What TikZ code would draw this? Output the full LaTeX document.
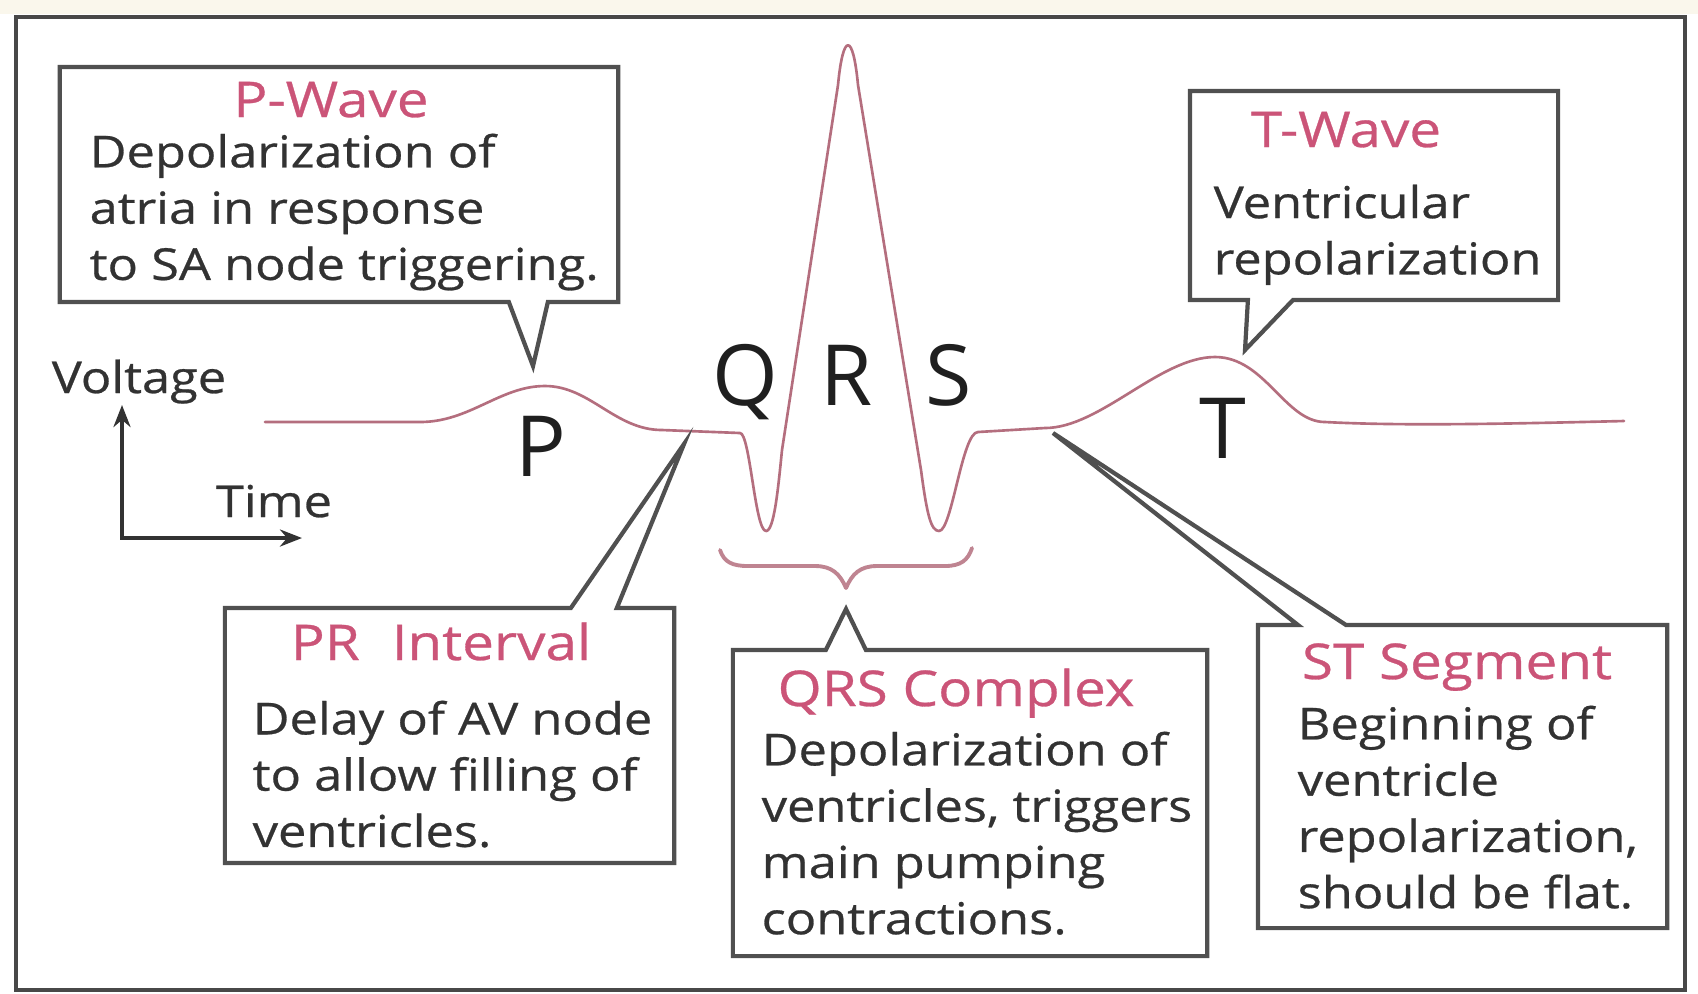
\documentclass[tikz,border=0pt]{standalone}
\usepackage{fontspec}
\setmainfont{Open Sans}[FakeStretch=1.15,FakeBold=0.6]
\newfontfamily\ecgletterfam{Open Sans}
\usetikzlibrary{calc,arrows.meta}
\definecolor{boxgrey}{RGB}{80,80,80}
\definecolor{txtgrey}{RGB}{50,50,50}
\definecolor{ttlpink}{RGB}{203,84,120}
\definecolor{wavepink}{RGB}{180,110,126}
\definecolor{framegrey}{RGB}{72,72,72}
\definecolor{creamtop}{RGB}{250,247,236}
\newcommand\ecgbody{\fontsize{12.5pt}{16pt}\selectfont}
\newcommand\ecgtitle{\fontsize{14pt}{17pt}\selectfont}
\newcommand\ecgletter{\ecgletterfam\fontsize{24pt}{28pt}\selectfont}
\tikzset{
  boxnode/.style={rectangle, draw=none, inner sep=0pt, outer sep=0pt},
  callout/.style={draw=boxgrey, line width=1.2pt, line join=miter, miter limit=20},
  bodytxt/.style={text=txtgrey, font=\ecgbody, align=left, anchor=north west, inner sep=0pt},
  ttl/.style={text=ttlpink, font=\ecgtitle, anchor=base, inner sep=0pt},
  axlabel/.style={text=txtgrey, font=\ecgbody, anchor=base, inner sep=0pt},
  wavelet/.style={font=\ecgletter, text=black!88, anchor=base, inner sep=0pt},
  wave/.style={draw=wavepink, line width=0.75pt, line join=round, line cap=round},
  bracestyle/.style={draw=wavepink!85, line width=1.1pt, line join=round, line cap=round},
  axis/.style={draw=txtgrey, line width=1.2pt, {Stealth[length=0.22cm,width=0.17cm]}-{Stealth[length=0.22cm,width=0.17cm]}},
}
\begin{document}
\begin{tikzpicture}[x=0.01cm, y=-0.01cm]
\useasboundingbox (0,0) rectangle (1698,993);
\fill[white] (0,0) rectangle (1698,993);
\fill[creamtop] (0,0) rectangle (1698,14);
\draw[framegrey, line width=1.3pt] (16,17) rectangle (1685,990);

% ---- ECG waveform ----
\draw[wave] (265,422) -- (420,422)
  .. controls (470,422) and (500,386) .. (545,386)
  .. controls (590,386) and (615,430) .. (662,430)
  -- (740,433)
  .. controls (750,433) and (755,531) .. (766,531)
  .. controls (774,531) and (778,490) .. (782,450)
  -- (838,85)
  .. controls (843,32) and (853,32) .. (858,85)
  -- (921,470)
  .. controls (927,515) and (931,531) .. (939,531)
  .. controls (952,531) and (962,432) .. (978,432)
  -- (1045,428)
  .. controls (1100,428) and (1160,357) .. (1215,357)
  .. controls (1265,357) and (1285,422) .. (1325,422)
  .. controls (1400,426) and (1500,424) .. (1624,421);

% QRS brace
\draw[bracestyle] (720,550) .. controls (724,562) and (732,566) .. (748,566)
  -- (815,566) .. controls (832,566) and (840,574) .. (846,588)
  .. controls (852,574) and (860,566) .. (877,566)
  -- (945,566) .. controls (961,566) and (968,560) .. (972,548);

% wave letters
\node[wavelet] (lP) at (541,476) {P};
\node[wavelet] (lQ) at (745,405) {Q};
\node[wavelet] (lR) at (847,405) {R};
\node[wavelet] (lS) at (949,405) {S};
\node[wavelet] (lT) at (1223,458) {T};

% axes
\coordinate (axc) at (122,538);
\coordinate (axv) at (122,405);
\coordinate (axh) at (302,538);
\draw[axis] (axv) -- (axc) -- (axh);
\node[axlabel] (volt) at (139,393) {Voltage};
\node[axlabel] (time) at (274,517) {Time};

% ---- P-Wave callout ----
\node[boxnode, minimum width=5.58cm, minimum height=2.35cm] (pwbox) at (339,184.5) {};
\coordinate (pwtip) at (533,366);
\coordinate (pwb1) at ($(pwbox.south west)+(449,0)$);
\coordinate (pwb2) at ($(pwbox.south west)+(488,0)$);
\draw[callout] (pwbox.south west) -- (pwbox.north west) -- (pwbox.north east)
  -- (pwbox.south east) -- (pwb2) -- (pwtip) -- (pwb1) -- cycle;
\node[ttl] (pwttl) at (331,117) {P-Wave};
\node[bodytxt] (pwtext) at (89,133) {Depolarization of\\atria in response\\to SA node triggering.};

% ---- T-Wave callout ----
\node[boxnode, minimum width=3.68cm, minimum height=2.09cm] (twbox) at (1374,195.5) {};
\coordinate (twtip) at (1245,350);
\coordinate (twb1) at ($(twbox.south west)+(58,0)$);
\coordinate (twb2) at ($(twbox.south west)+(103,0)$);
\draw[callout] (twbox.south west) -- (twbox.north west) -- (twbox.north east)
  -- (twbox.south east) -- (twb2) -- (twtip) -- (twb1) -- cycle;
\node[ttl] (twttl) at (1346,147) {T-Wave};
\node[bodytxt] (twtext) at (1213,184) {Ventricular\\repolarization};

% ---- PR Interval callout ----
\node[boxnode, minimum width=4.49cm, minimum height=2.55cm] (prbox) at (449.5,735.5) {};
\coordinate (prtip) at (684,444);
\coordinate (prb1) at ($(prbox.north west)+(346,0)$);
\coordinate (prb2) at ($(prbox.north west)+(392,0)$);
\draw[callout] (prbox.north west) -- (prb1) -- (prtip) -- (prb2) -- (prbox.north east)
  -- (prbox.south east) -- (prbox.south west) -- cycle;
\node[ttl] (prttl) at (441,660) {PR\hspace{0.35em} Interval};
\node[bodytxt] (prtext) at (252,700) {Delay of AV node\\to allow filling of\\ventricles.};

% ---- QRS Complex callout ----
\node[boxnode, minimum width=4.74cm, minimum height=3.06cm] (qrsbox) at (970,803) {};
\coordinate (qrstip) at (846,609);
\coordinate (qrsb1) at ($(qrsbox.north west)+(93,0)$);
\coordinate (qrsb2) at ($(qrsbox.north west)+(133,0)$);
\draw[callout] (qrsbox.north west) -- (qrsb1) -- (qrstip) -- (qrsb2) -- (qrsbox.north east)
  -- (qrsbox.south east) -- (qrsbox.south west) -- cycle;
\node[ttl] (qrsttl) at (956,706) {QRS Complex};
\node[bodytxt] (qrstext) at (761,731) {Depolarization of\\ventricles, triggers\\main pumping\\contractions.};

% ---- ST Segment callout ----
\node[boxnode, minimum width=4.09cm, minimum height=3.03cm] (stbox) at (1462.5,776.5) {};
\coordinate (sttip) at (1053,433);
\coordinate (stb1) at ($(stbox.north west)+(40,0)$);
\coordinate (stb2) at ($(stbox.north west)+(88,0)$);
\draw[callout] (stbox.north west) -- (stb1) -- (sttip) -- (stb2) -- (stbox.north east)
  -- (stbox.south east) -- (stbox.south west) -- cycle;
\node[ttl] (stttl) at (1457,679) {ST Segment};
\node[bodytxt] (sttext) at (1297,705) {Beginning of\\ventricle\\repolarization,\\should be flat.};
\end{tikzpicture}
\end{document}
